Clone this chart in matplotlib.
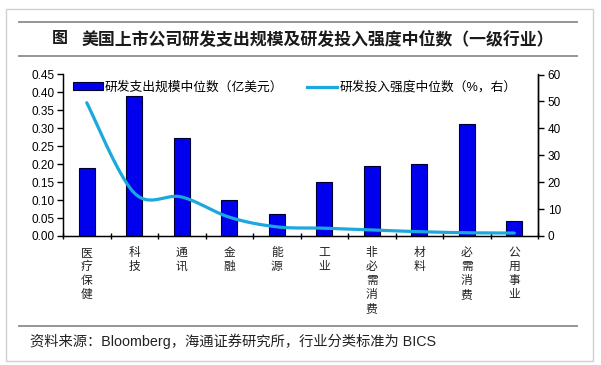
import numpy as np
import matplotlib
matplotlib.use("Agg")
import matplotlib.pyplot as plt
from matplotlib.lines import Line2D
from matplotlib.patches import Rectangle, Patch

plt.rcParams['font.family'] = ['Liberation Sans', 'Noto Sans CJK SC']

# data
industries = ['医疗保健', '科技', '通讯', '金融', '能源', '工业',
              '非必需消费', '材料', '必需消费', '公用事业']
rd_spend = [0.19, 0.39, 0.274, 0.10, 0.06, 0.15, 0.194, 0.20, 0.312, 0.043]   # 亿美元
rd_intensity = [49.5, 16, 14.5, 7, 3.4, 2.9, 2.2, 1.6, 1.2, 1.1]              # %

bar_label = '研发支出规模中位数（亿美元）'
line_label = '研发投入强度中位数（%，右）'
title = '美国上市公司研发支出规模及研发投入强度中位数（一级行业）'
source = '资料来源：Bloomberg，海通证券研究所，行业分类标准为 BICS'


def smooth(xs, ys, n=30):
    # excel-like bezier smoothing
    p = np.column_stack([xs, ys]).astype(float)
    out = []
    for i in range(len(p) - 1):
        p0 = p[i - 1] if i > 0 else p[i]
        p3 = p[i + 2] if i + 2 < len(p) else p[i + 1]
        c1 = p[i] + (p[i + 1] - p0) / 6
        c2 = p[i + 1] - (p3 - p[i]) / 6
        t = np.linspace(0, 1, n)[:, None]
        seg = ((1 - t) ** 3) * p[i] + 3 * ((1 - t) ** 2) * t * c1 \
            + 3 * (1 - t) * t ** 2 * c2 + t ** 3 * p[i + 1]
        out.append(seg if i == 0 else seg[1:])
    out = np.vstack(out)
    return out[:, 0], out[:, 1]


fig = plt.figure(figsize=(6.01, 3.65), dpi=100)

# frame and header lines
fig.patches.append(Rectangle((6 / 601, 1 - 361 / 365), 587 / 601, 352 / 365,
                             transform=fig.transFigure, fill=False,
                             edgecolor='#d0d0d0', lw=1))
for yy in [22.3, 56, 326]:
    fig.lines.append(Line2D([19 / 601, 577 / 601], [1 - yy / 365] * 2,
                            transform=fig.transFigure, color='#8c8c8c', lw=1.3))
fig.text(60 / 601, 1 - 39 / 365, '图', fontsize=11.5, ha='center', va='center',
         fontweight='bold', color='#1a1a1a')
fig.text(82 / 601, 1 - 39 / 365, title, fontsize=12.2, ha='left', va='center',
         fontweight='bold', color='#1a1a1a')
fig.text(30 / 601, 1 - 341 / 365, source, fontsize=10.3, ha='left', va='center',
         color='#222222')

ax = fig.add_axes([63 / 601, 1 - 236 / 365, 475 / 601, 161.5 / 365])
x = np.arange(len(industries))
ax.bar(x, rd_spend, width=0.34, color='#0000ee', edgecolor='#000030', lw=0.8)
ax.set_xlim(-0.5, len(industries) - 0.5)
ax.set_ylim(0, 0.45)
ax.set_yticks(np.arange(0, 0.451, 0.05))
ax.set_yticklabels([f'{v:.2f}' for v in np.arange(0, 0.451, 0.05)])
ax.set_xticks(np.arange(-0.5, len(industries), 1))
ax.set_xticklabels([])
ax.set_xticks(x, minor=True)
ax.set_xticklabels(['\n'.join(s) for s in industries], minor=True,
                   fontsize=8.5, linespacing=1.22, va='top', color='#222222')
ax.tick_params(axis='x', which='major', direction='inout', length=5, width=1)
ax.tick_params(axis='x', which='minor', length=0, pad=8)
ax.tick_params(axis='y', direction='out', length=4, width=1, labelsize=8.5, pad=2)
ax.spines['top'].set_visible(False)
for s in ['left', 'bottom', 'right']:
    ax.spines[s].set_linewidth(1)

ax2 = ax.twinx()
sx, sy = smooth(x, rd_intensity)
ax2.plot(sx, sy, color='#1ba8dc', lw=2.3, solid_capstyle='round')
ax2.set_ylim(0, 60)
ax2.set_yticks(range(0, 61, 10))
ax2.tick_params(axis='y', direction='out', length=4, width=1, labelsize=8.5, pad=3)
ax2.spines['top'].set_visible(False)
ax2.spines['right'].set_linewidth(1)

handles = [Patch(facecolor='#0000ee', edgecolor='#000030', lw=0.8),
           Line2D([], [], color='#1ba8dc', lw=2.3)]
ax2.legend(handles, [bar_label, line_label], ncol=2, frameon=False,
           loc='center left', bbox_to_anchor=(0.02, 0.92), borderpad=0,
           borderaxespad=0, handlelength=2.4, handleheight=0.55,
           handletextpad=0.15, columnspacing=1.8, fontsize=9.2)

fig.savefig('out.png', dpi=100)
